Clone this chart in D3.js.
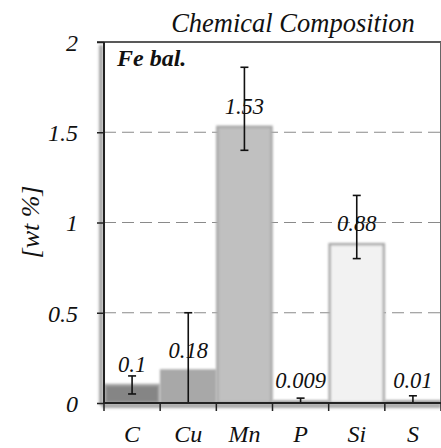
<!DOCTYPE html>
<html>
<head>
<meta charset="utf-8">
<script src="https://cdn.jsdelivr.net/npm/d3@7"></script>
<style>
  html, body { margin: 0; padding: 0; background: #fff; }
  svg { display: block; }
</style>
</head>
<body>
<svg id="chart" width="441" height="448"></svg>
<script>
// Composition of the steel (wt %), iron balance
const elements   = ["C", "Cu", "Mn", "P", "Si", "S"];
const values     = [0.1, 0.18, 1.53, 0.009, 0.88, 0.01];
const valueLabels = ["0.1", "0.18", "1.53", "0.009", "0.88", "0.01"];
const errLow     = [0.05, 0.0, 1.40, 0.0, 0.80, 0.0];
const errHigh    = [0.15, 0.5, 1.86, 0.027, 1.15, 0.04];
const barColors  = ["#858585", "#a8a8a8", "#c0c0c0", "#ececec", "#f2f2f2", "#e6e6e6"];
const yTicks     = [0, 0.5, 1, 1.5, 2];
const yTickLabels = ["0", "0.5", "1", "1.5", "2"];
const gridValues = [0.5, 1, 1.5];

const FONT = "Liberation Serif";
const serif = (sel, size) => sel.attr("font-family", FONT).attr("font-style", "italic")
  .attr("font-size", size).attr("fill", "#111");

const svg = d3.select("#chart");
const mLeft = 104, mRight = 441, mTop = 42, mBottom = 403;

const x = d3.scaleBand().domain(elements).range([mLeft, mRight]).paddingInner(0).paddingOuter(0);
const y = d3.scaleLinear().domain([0, 2]).range([mBottom, mTop]);

const defs = svg.append("defs");
const blur = defs.append("filter").attr("id", "blur")
  .attr("filterUnits", "userSpaceOnUse")
  .attr("x", 0).attr("y", 0).attr("width", 441).attr("height", 448);
blur.append("feGaussianBlur").attr("stdDeviation", 1.6);
const soft = defs.append("filter").attr("id", "soft")
  .attr("filterUnits", "userSpaceOnUse")
  .attr("x", 0).attr("y", 0).attr("width", 441).attr("height", 448);
soft.append("feGaussianBlur").attr("stdDeviation", 0.8);

// dashed grid
svg.append("g").selectAll("line").data(gridValues).join("line")
  .attr("x1", mLeft).attr("x2", mRight)
  .attr("y1", d => y(d)).attr("y2", d => y(d))
  .attr("stroke", "#8a8a8a").attr("stroke-width", 1.2)
  .attr("stroke-dasharray", "12,6");

// bars
svg.append("g").selectAll("rect").data(elements).join("rect")
  .attr("x", d => x(d) + 1)
  .attr("width", x.bandwidth() - 2)
  .attr("y", (d, i) => y(values[i]))
  .attr("height", (d, i) => y(0) - y(values[i]))
  .attr("fill", (d, i) => barColors[i])
  .attr("stroke", "#a8a8a8").attr("stroke-width", 2.5)
  .attr("filter", "url(#soft)");

// value labels
svg.append("g").selectAll("text").data(elements).join("text")
  .attr("x", d => x(d) + x.bandwidth() / 2)
  .attr("y", (d, i) => y(values[i]) - 13)
  .attr("text-anchor", "middle")
  .call(serif, 22.5)
  .text((d, i) => valueLabels[i]);

// error bars
const eb = svg.append("g").attr("stroke", "#111").attr("stroke-width", 1.6);
elements.forEach((d, i) => {
  const cx = x(d) + x.bandwidth() / 2;
  eb.append("line").attr("x1", cx).attr("x2", cx).attr("y1", y(errLow[i])).attr("y2", y(errHigh[i]));
  [errLow[i], errHigh[i]].forEach(v => {
    if (v > 0) eb.append("line").attr("x1", cx - 4).attr("x2", cx + 4).attr("y1", y(v)).attr("y2", y(v));
  });
});

// soft shadow along the left and bottom axis lines
const sh = svg.append("g").attr("filter", "url(#blur)").attr("stroke", "#888").attr("stroke-width", 3);
sh.append("line").attr("x1", mLeft - 3).attr("x2", mLeft - 3).attr("y1", mTop + 3).attr("y2", mBottom + 2);
sh.append("line").attr("x1", mLeft - 2).attr("x2", mRight).attr("y1", mBottom + 3).attr("y2", mBottom + 3);

// frame: top and right
svg.append("line").attr("x1", 97).attr("x2", mRight).attr("y1", mTop).attr("y2", mTop)
  .attr("stroke", "#222").attr("stroke-width", 1.5);
svg.append("line").attr("x1", mRight - 0.5).attr("x2", mRight - 0.5).attr("y1", mTop).attr("y2", mBottom)
  .attr("stroke", "#666").attr("stroke-width", 1);

// y axis
const yAxis = svg.append("g").attr("transform", `translate(${mLeft},0)`)
  .call(d3.axisLeft(y).tickValues(yTicks).tickSize(7).tickPadding(19)
    .tickFormat((d, i) => yTickLabels[i]));
yAxis.attr("font-family", FONT);
yAxis.select(".domain").attr("stroke", "#222").attr("stroke-width", 2).attr("d", `M0,${mTop}V${mBottom}`);
yAxis.selectAll(".tick line").attr("stroke", "#222").attr("stroke-width", 1.5);
yAxis.selectAll(".tick text").call(serif, 24).attr("dy", "0.35em");

// x axis: category labels
const xAxis = svg.append("g").attr("transform", `translate(0,${mBottom})`)
  .call(d3.axisBottom(x).tickSize(0).tickPadding(22));
xAxis.attr("font-family", FONT);
xAxis.select(".domain").attr("stroke", "#222").attr("stroke-width", 2).attr("d", `M${mLeft},0H${mRight}`);
xAxis.selectAll(".tick text").call(serif, 24);
// boundary ticks between categories
const bounds = elements.map(d => x(d)).concat([mRight]);
xAxis.append("g").selectAll("line").data(bounds).join("line")
  .attr("x1", d => d).attr("x2", d => d).attr("y1", 0).attr("y2", 8)
  .attr("stroke", "#222").attr("stroke-width", 1.5);

// title
svg.append("text").attr("x", 293).attr("y", 32).attr("text-anchor", "middle")
  .call(serif, 26.5).text("Chemical Composition");

// annotation
svg.append("text").attr("x", 117).attr("y", 66)
  .call(serif, 24).attr("font-weight", "bold").text("Fe bal.");

// y axis title
svg.append("text").attr("transform", "translate(39,222) rotate(-90)")
  .attr("text-anchor", "middle").call(serif, 26).text("[wt %]");
</script>
</body>
</html>
